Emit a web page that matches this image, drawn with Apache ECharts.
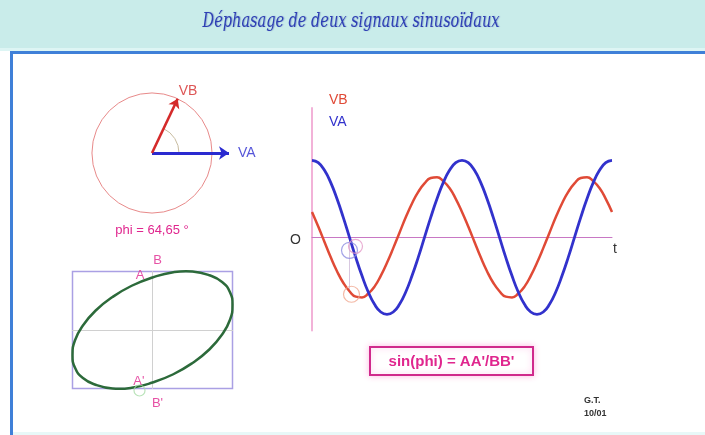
<!DOCTYPE html>
<html>
<head>
<meta charset="utf-8">
<script src="https://cdn.jsdelivr.net/npm/echarts@6/dist/echarts.min.js"></script>
<style>
  html, body { margin: 0; padding: 0; background: #ffffff; }
  #chart { width: 705px; height: 435px; }
</style>
</head>
<body>
<div id="chart"></div>
<script>
// Two sinusoidal signals VA and VB, sampled every 15 degrees over two periods.
const SAMPLE_STEP_DEG = 15;
const VA = [1.00, 0.97, 0.87, 0.71, 0.50, 0.26, 0.00, -0.26, -0.50, -0.71, -0.87, -0.97,
            -1.00, -0.97, -0.87, -0.71, -0.50, -0.26, 0.00, 0.26, 0.50, 0.71, 0.87, 0.97,
            1.00, 0.97, 0.87, 0.71, 0.50, 0.26, 0.00, -0.26, -0.50, -0.71, -0.87, -0.97,
            -1.00, -0.97, -0.87, -0.71, -0.50, -0.26, 0.00, 0.26, 0.50, 0.71, 0.87, 0.97, 1.00];
const VB = [0.33, 0.14, -0.06, -0.26, -0.44, -0.59, -0.70, -0.77, -0.78, -0.73, -0.64, -0.50,
            -0.33, -0.14, 0.06, 0.26, 0.44, 0.59, 0.70, 0.77, 0.78, 0.73, 0.64, 0.50,
            0.33, 0.14, -0.06, -0.26, -0.44, -0.59, -0.70, -0.77, -0.78, -0.73, -0.64, -0.50,
            -0.33, -0.14, 0.06, 0.26, 0.44, 0.59, 0.70, 0.77, 0.78, 0.73, 0.64, 0.50, 0.33];

// Phasor parameters
const VA_AMP = 1.00;
const VB_AMP = 0.78;
const PHI_DEG = 64.65;

// Instant highlighted on the time plot (VA crosses zero)
const MARK_INDEX = 6;

// Texts
const TITLE = 'Déphasage de deux signaux sinusoïdaux';
const FORMULA = "sin(phi) = AA'/BB'";
const AUTHOR = ['G.T.', '10/01'];

const theta = VA.map((_, i) => i * SAMPLE_STEP_DEG);
const vaLine = VA.map((v, i) => [theta[i], v]);
const vbLine = VB.map((v, i) => [theta[i], v]);
const periodSamples = 360 / SAMPLE_STEP_DEG;
// one period of (VA, VB) pairs: the Lissajous figure (closed, so the repeated end point is dropped)
const ellipse = VA.slice(0, periodSamples).map((v, i) => [v, VB[i]]);

const phiRad = PHI_DEG * Math.PI / 180;
const vbTip = [VB_AMP * Math.cos(phiRad), VB_AMP * Math.sin(phiRad)];
const aa = VB_AMP * Math.sin(phiRad);   // half of AA'

const FONT = 'Liberation Sans, Arial, sans-serif';
const PINK = '#e0268e';

const chart = echarts.init(document.getElementById('chart'), null, { renderer: 'canvas' });

const hiddenAxis = {
  show: false, splitLine: { show: false }
};

chart.setOption({
  animation: false,
  backgroundColor: '#ffffff',
  grid: [
    // time plot
    { left: 312, top: 108, width: 300, height: 222.5 },
    // phasor diagram
    { left: 59.6, top: 76, width: 184.8, height: 154 },
    // Lissajous ellipse (box = amplitudes)
    { left: 72.5, top: 271.5, width: 160, height: 117, show: true,
      borderColor: '#aaa0e4', borderWidth: 1.5, backgroundColor: 'transparent' }
  ],
  xAxis: [
    { gridIndex: 0, type: 'value', min: 0, max: 720,
      axisLine: { show: true, onZero: true, lineStyle: { color: '#c878c4', width: 1 } },
      axisTick: { show: false }, axisLabel: { show: false }, splitLine: { show: false },
      name: 't', nameLocation: 'end', nameGap: 1,
      nameTextStyle: { color: '#333', fontFamily: FONT, fontSize: 14, verticalAlign: 'top', padding: [5, 0, 0, 0] } },
    Object.assign({ gridIndex: 1, type: 'value', min: -1.2, max: 1.2 }, hiddenAxis),
    { gridIndex: 2, type: 'value', min: -VA_AMP, max: VA_AMP,
      axisLine: { show: true, onZero: true, lineStyle: { color: '#d0d0d0', width: 1 } },
      axisTick: { show: false }, axisLabel: { show: false }, splitLine: { show: false } }
  ],
  yAxis: [
    { gridIndex: 0, type: 'value', min: -1.21, max: 1.68,
      axisLine: { show: true, onZero: true, lineStyle: { color: '#f2b2d8', width: 2 } },
      axisTick: { show: false }, axisLabel: { show: false }, splitLine: { show: false } },
    Object.assign({ gridIndex: 1, type: 'value', min: -1, max: 1 }, hiddenAxis),
    { gridIndex: 2, type: 'value', min: -VB_AMP, max: VB_AMP,
      axisLine: { show: true, onZero: true, lineStyle: { color: '#d0d0d0', width: 1 } },
      axisTick: { show: false }, axisLabel: { show: false }, splitLine: { show: false } }
  ],
  series: [
    // time plot
    { type: 'line', name: 'VB', xAxisIndex: 0, yAxisIndex: 0, data: vbLine, smooth: true,
      showSymbol: false, lineStyle: { color: '#e04a36', width: 2.5 }, z: 3 },
    { type: 'line', name: 'VA', xAxisIndex: 0, yAxisIndex: 0, data: vaLine, smooth: true,
      showSymbol: false, lineStyle: { color: '#3232cc', width: 2.8 }, z: 4 },
    { type: 'line', xAxisIndex: 0, yAxisIndex: 0, showSymbol: false, silent: true,
      data: [[theta[MARK_INDEX], VA[MARK_INDEX]], [theta[MARK_INDEX], VB[MARK_INDEX]]],
      lineStyle: { color: '#d8c8e0', width: 1 }, z: 2 },
    { type: 'scatter', xAxisIndex: 0, yAxisIndex: 0, symbol: 'circle', symbolSize: 16,
      data: [[theta[MARK_INDEX], VA[MARK_INDEX]]], symbolOffset: [0, 13],
      itemStyle: { color: 'transparent', borderColor: '#8c8ce0', borderWidth: 1.2 }, z: 5 },
    { type: 'scatter', xAxisIndex: 0, yAxisIndex: 0, symbol: 'circle', symbolSize: 14,
      data: [[theta[MARK_INDEX], VA[MARK_INDEX]]], symbolOffset: [6, 9],
      itemStyle: { color: 'transparent', borderColor: '#e49ac8', borderWidth: 1.2 }, z: 5 },
    { type: 'scatter', xAxisIndex: 0, yAxisIndex: 0, symbol: 'circle', symbolSize: 16,
      data: [[theta[MARK_INDEX], VB[MARK_INDEX]]], symbolOffset: [2, 3],
      itemStyle: { color: 'transparent', borderColor: '#f0a890', borderWidth: 1.2 }, z: 5 },

    // phasors
    { type: 'lines', coordinateSystem: 'cartesian2d', xAxisIndex: 1, yAxisIndex: 1,
      data: [{ coords: [[0, 0], [VA_AMP, 0]] }], symbol: ['none', 'arrow'], symbolSize: 10,
      lineStyle: { color: '#2a2ad0', width: 3, opacity: 1 }, z: 4 },
    { type: 'lines', coordinateSystem: 'cartesian2d', xAxisIndex: 1, yAxisIndex: 1,
      data: [{ coords: [[0, 0], vbTip] }], symbol: ['none', 'arrow'], symbolSize: 9,
      lineStyle: { color: '#d42a2a', width: 2.6, opacity: 1 }, z: 4 },
    { type: 'scatter', xAxisIndex: 1, yAxisIndex: 1, symbolSize: 0,
      data: [{ value: [VA_AMP, 0], name: 'VA' }],
      label: { show: true, position: 'right', distance: 9, formatter: '{b}',
               color: '#2a2ad0', fontFamily: FONT, fontSize: 14 } },
    { type: 'scatter', xAxisIndex: 1, yAxisIndex: 1, symbolSize: 0,
      data: [{ value: vbTip, name: 'VB' }],
      label: { show: true, position: 'right', distance: 1, offset: [0, -8], formatter: '{b}',
               color: '#d42a2a', fontFamily: FONT, fontSize: 14 } },

    // Lissajous ellipse drawn as one closed smooth outline through the (VA, VB) pairs
    { type: 'custom', xAxisIndex: 2, yAxisIndex: 2, clip: false, z: 4, silent: true,
      data: [[0, 0]],
      renderItem: function (params, api) {
        return {
          type: 'polygon',
          shape: { points: ellipse.map(p => api.coord(p)), smooth: 0.5 },
          style: { fill: 'none', stroke: '#2c6a3a', lineWidth: 2.5 }
        };
      } },
    { type: 'scatter', xAxisIndex: 2, yAxisIndex: 2, symbolSize: 0, clip: false,
      data: [
        { value: [0, aa], name: 'A', label: { position: 'left', distance: 8, offset: [0, -2] } },
        { value: [0, VB_AMP], name: 'B', label: { position: 'top', distance: 5, offset: [5, 0] } },
        { value: [0, -aa], name: "A'", label: { position: 'left', distance: 8, offset: [0, -1] } },
        { value: [0, -VB_AMP], name: "B'", label: { position: 'bottom', distance: 8, offset: [5, 0] } }
      ],
      label: { show: true, formatter: '{b}', color: PINK, fontFamily: FONT, fontSize: 13 }, z: 6 },
    { type: 'scatter', xAxisIndex: 2, yAxisIndex: 2, symbol: 'circle', symbolSize: 11, clip: false,
      data: [[VA[MARK_INDEX], VB[MARK_INDEX]]], symbolOffset: [-13, 8],
      itemStyle: { color: 'transparent', borderColor: '#a8dca8', borderWidth: 1.2 }, z: 5 }
  ]
});

// Frame, titles and the constructions that depend on the phasor scale
const c0 = chart.convertToPixel({ gridIndex: 1 }, [0, 0]);
const cR = chart.convertToPixel({ gridIndex: 1 }, [VB_AMP, 0]);
const radius = cR[0] - c0[0];

chart.setOption({
  graphic: [
    { type: 'rect', z: -10, silent: true, shape: { x: 0, y: 0, width: 705, height: 48 },
      style: { fill: '#c9ecea' } },
    { type: 'rect', z: -10, silent: true, shape: { x: 0, y: 48, width: 705, height: 3 },
      style: { fill: '#ddf5f4' } },
    { type: 'rect', z: -9, silent: true, shape: { x: 10, y: 51, width: 695, height: 3 },
      style: { fill: '#3f80d8' } },
    { type: 'rect', z: -9, silent: true, shape: { x: 10, y: 51, width: 3, height: 384 },
      style: { fill: '#3f80d8' } },
    { type: 'rect', z: -10, silent: true, shape: { x: 13, y: 432, width: 692, height: 3 },
      style: { fill: '#e8f8f8' } },
    { type: 'text', z: 10, x: 351, y: 22, scaleX: 0.69,
      style: { text: TITLE, fill: '#2e3fb4', align: 'center', verticalAlign: 'middle',
               font: 'italic 21px "DejaVu Serif", serif',
               textShadowColor: 'rgba(40,60,160,0.35)', textShadowBlur: 1, textShadowOffsetX: 1 } },

    // phasor circle and angle arc
    { type: 'circle', z: 3, silent: true, shape: { cx: c0[0], cy: c0[1], r: radius },
      style: { fill: 'none', stroke: '#e88a8a', lineWidth: 1 } },
    { type: 'arc', z: 3, silent: true,
      shape: { cx: c0[0], cy: c0[1], r: 27, startAngle: -phiRad, endAngle: 0, clockwise: true },
      style: { fill: 'none', stroke: '#c8bca0', lineWidth: 1 } },
    { type: 'text', z: 10, x: c0[0], y: c0[1] + 77,
      style: { text: 'phi = ' + PHI_DEG.toFixed(2).replace('.', ',') + ' °', fill: PINK,
               font: '13px ' + FONT, align: 'center', verticalAlign: 'middle' } },

    // time plot labels
    { type: 'text', z: 10, x: 329, y: 93,
      style: { text: 'VB', fill: '#e04a36', font: '14px ' + FONT } },
    { type: 'text', z: 10, x: 329, y: 115,
      style: { text: 'VA', fill: '#3232cc', font: '14px ' + FONT } },
    { type: 'text', z: 10, x: 290, y: 233,
      style: { text: 'O', fill: '#333333', font: '14px ' + FONT } },

    // formula box
    { type: 'rect', z: 9, silent: true, shape: { x: 370, y: 347, width: 163, height: 28 },
      style: { fill: '#ffffff', stroke: '#d02a8c', lineWidth: 2,
               shadowBlur: 6, shadowColor: 'rgba(255,120,200,0.45)' } },
    { type: 'text', z: 10, x: 451.5, y: 361.5,
      style: { text: FORMULA, fill: PINK, font: 'bold 15px ' + FONT,
               align: 'center', verticalAlign: 'middle' } },

    // signature
    { type: 'text', z: 10, x: 584, y: 394,
      style: { text: AUTHOR.join('\n'), fill: '#333333', font: 'bold 9px ' + FONT, lineHeight: 13 } }
  ]
});
</script>
</body>
</html>
